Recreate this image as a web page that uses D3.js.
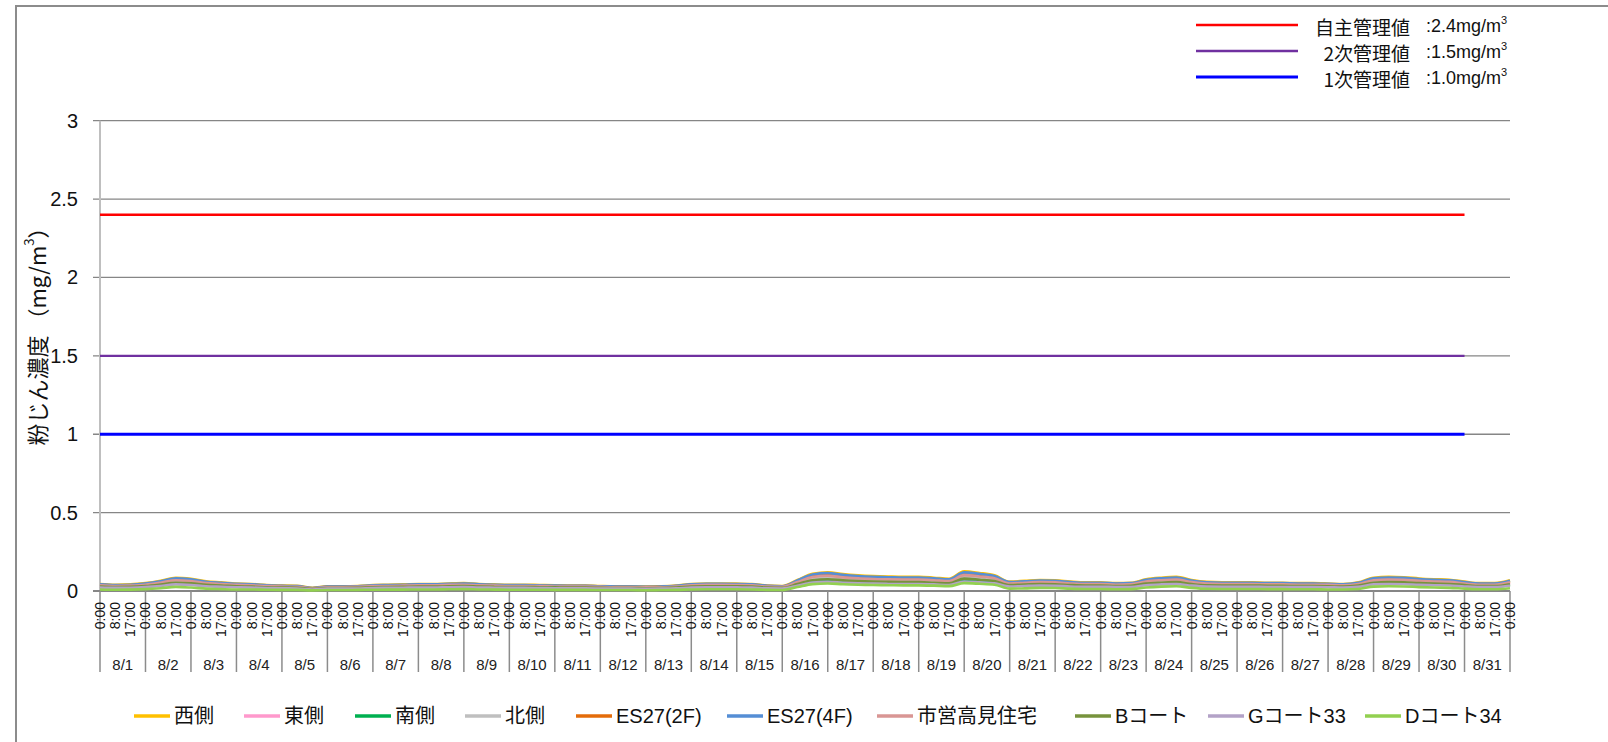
<!DOCTYPE html>
<html>
<head>
<meta charset="utf-8">
<script src="https://cdn.jsdelivr.net/npm/d3@7"></script>
<style>
body { margin: 0; background: #fff; }
svg { display: block; font-family: "Liberation Sans", Arial, "Noto Sans CJK JP", sans-serif; }
</style>
</head>
<body>
<svg id="chart" width="1608" height="742"></svg>
<script>
// categories: three readings a day + the closing 0:00
const dates = ['8/1','8/2','8/3','8/4','8/5','8/6','8/7','8/8','8/9','8/10','8/11','8/12','8/13','8/14','8/15','8/16',
    '8/17','8/18','8/19','8/20','8/21','8/22','8/23','8/24','8/25','8/26','8/27','8/28','8/29','8/30','8/31'];
const times = ['0:00', '8:00', '17:00'];
const lastTime = '0:00';

const yTicks = [0, 0.5, 1, 1.5, 2, 2.5, 3];

// control limits (mg/m3), drawn up to 8/31 0:00
const limitNames = ['自主管理値', '2次管理値', '1次管理値'];
const limitValues = [2.4, 1.5, 1.0];
const limitTexts = [':2.4mg/m', ':1.5mg/m', ':1.0mg/m'];
const limitColors = ['#ff0000', '#7030a0', '#0000ff'];
const limitEndIndex = 90;

// dust readings in µg/m3 (÷1000 -> mg/m3)
const west = [45,40,42,50,65,85,78,62,55,48, 45,38,35,33,20,30,30,32,38,40, 42,45,45,48,50,45,42,40,40,38,
    36,35,35,32,30,30,28,30,35,45, 48,48,47,45,35,32,70,110,120,108, 100,95,92,90,90,85,78,125,115,100,
    60,65,70,68,60,55,55,50,52,75, 85,90,70,58,55,55,55,52,52,50, 50,48,45,55,85,90,88,80,75,72, 60,50,50,68];
const es27_4f = [43,38,40,48,62,81,74,59,52,46, 43,36,33,31,19,29,28,30,36,38, 40,43,43,46,48,43,40,38,38,36,
    34,33,33,30,29,28,27,29,33,43, 46,46,45,43,33,30,67,105,114,103, 95,90,88,86,86,81,74,119,109,95,
    57,62,67,65,57,52,52,48,50,71, 81,86,67,55,52,52,52,50,50,48, 48,46,43,52,81,86,84,76,71,69, 57,48,48,65];
const es27_2f = [40,35,37,44,57,75,69,55,48,42, 40,33,31,29,18,26,26,28,33,35, 37,40,40,42,44,40,37,35,35,33,
    32,31,31,28,26,26,25,26,31,40, 42,42,41,40,31,28,62,97,106,95, 88,84,81,79,79,75,69,110,101,88,
    53,57,62,60,53,48,48,44,46,66, 75,79,62,51,48,48,48,46,46,44, 44,42,40,48,75,79,77,70,66,63, 53,44,44,60];
const shiei = [36,32,34,40,53,69,63,50,44,39, 36,31,28,27,16,24,24,26,31,32, 34,36,36,39,40,36,34,32,32,31,
    29,28,28,26,24,24,23,24,28,36, 39,39,38,36,28,26,57,89,97,87, 81,77,74,73,73,69,63,101,93,81,
    48,53,57,55,48,44,44,40,42,61, 69,73,57,47,44,44,44,42,42,40, 40,39,36,44,69,73,71,65,61,58, 48,40,40,55];
const east = [34,30,31,37,49,64,58,46,41,36, 34,28,26,25,15,22,22,24,28,30, 31,34,34,36,37,34,31,30,30,28,
    27,26,26,24,22,22,21,22,26,34, 36,36,35,34,26,24,52,82,90,81, 75,71,69,67,67,64,58,94,86,75,
    45,49,52,51,45,41,41,37,39,56, 64,67,52,43,41,41,41,39,39,37, 37,36,34,41,64,67,66,60,56,54, 45,37,37,51];
const north = [32,28,29,35,46,60,55,43,39,34, 32,27,25,23,14,21,21,22,27,28, 29,32,32,34,35,32,29,28,28,27,
    25,25,25,22,21,21,20,21,25,32, 34,34,33,32,25,22,49,77,84,76, 70,67,64,63,63,60,55,88,81,70,
    42,46,49,48,42,39,39,35,36,53, 60,63,49,41,39,39,39,36,36,35, 35,34,32,39,60,63,62,56,53,50, 42,35,35,48];
const bCourt = [28,25,26,31,41,53,49,39,35,30, 28,24,22,21,13,19,19,20,24,25, 26,28,28,30,31,28,26,25,25,24,
    23,22,22,20,19,19,18,19,22,28, 30,30,30,28,22,20,44,69,75,68, 63,60,58,57,57,53,49,79,72,63,
    38,41,44,43,38,35,35,31,33,47, 53,57,44,36,35,35,35,33,33,31, 31,30,28,35,53,57,55,50,47,45, 38,31,31,43];
const south = [26,23,24,28,37,48,44,35,31,27, 26,22,20,19,11,17,17,18,22,23, 24,26,26,27,28,26,24,23,23,22,
    20,20,20,18,17,17,16,17,20,26, 27,27,27,26,20,18,40,62,68,61, 57,54,52,51,51,48,44,71,65,57,
    34,37,40,39,34,31,31,28,30,43, 48,51,40,33,31,31,31,30,30,28, 28,27,26,31,48,51,50,45,43,41, 34,28,28,39];
const gCourt33 = [22,20,21,25,32,42,38,30,27,24, 22,19,17,16,10,15,15,16,19,20, 21,22,22,24,25,22,21,20,20,19,
    18,17,17,16,15,15,14,15,17,22, 24,24,23,22,17,16,34,54,59,53, 49,47,45,44,44,42,38,61,56,49,
    29,32,34,33,29,27,27,25,25,37, 42,44,34,28,27,27,27,25,25,25, 25,24,22,27,42,44,43,39,37,35, 29,25,25,33];
const dCourt34 = [10,8,9,12,18,26,22,15,12,10, 10,8,7,7,4,6,6,7,8,9, 9,10,10,11,12,10,9,8,8,8,
    7,7,7,6,6,6,5,6,7,10, 11,11,11,10,7,6,25,44,48,43, 40,38,37,36,36,34,31,50,46,40,
    15,17,20,19,15,13,13,11,12,22, 28,30,20,14,13,13,13,12,12,11, 11,10,10,13,28,30,29,25,22,20, 15,11,11,18];

const seriesNames = ['西側', '東側', '南側', '北側', 'ES27(2F)', 'ES27(4F)', '市営高見住宅', 'Bコート', 'Gコート33', 'Dコート34'];
const seriesValues = [west, east, south, north, es27_2f, es27_4f, shiei, bCourt, gCourt33, dCourt34];
const seriesColors = ['#ffc000', '#ff99cc', '#00b050', '#bfbfbf', '#e46c0a', '#558ed5', '#d99694', '#77933c', '#b3a2c7', '#92d050'];

const categories = [];
dates.forEach(function(d) {
    times.forEach(function(t) { categories.push({date: d, time: t}); });
});
categories.push({date: '', time: lastTime});

const svg = d3.select('#chart');

const x = d3.scalePoint()
    .domain(d3.range(categories.length))
    .range([100, 1510]);
const y = d3.scaleLinear()
    .domain([0, 3])
    .range([591, 120.7]);

// chart border
svg.append('path')
    .attr('d', 'M16,742V6H1608')
    .attr('fill', 'none')
    .attr('stroke', '#8c8c8c')
    .attr('stroke-width', 2);

// grid
svg.append('g')
    .selectAll('line')
    .data(yTicks.filter(function(v) { return v > 0; }))
    .join('line')
    .attr('x1', 93).attr('x2', 1510)
    .attr('y1', function(d) { return y(d); })
    .attr('y2', function(d) { return y(d); })
    .attr('stroke', '#868686')
    .attr('stroke-width', 1.3);

svg.append('line')
    .attr('x1', 100).attr('x2', 100)
    .attr('y1', y(3)).attr('y2', y(0))
    .attr('stroke', '#bfbfbf')
    .attr('stroke-width', 2);

const yAxis = svg.append('g')
    .attr('transform', 'translate(100,0)')
    .call(d3.axisLeft(y).tickValues(yTicks).tickSize(0).tickPadding(22).tickFormat(d3.format('')));
yAxis.select('.domain').remove();
yAxis.selectAll('text')
    .attr('font-size', 20)
    .attr('fill', '#111')
    .style('font-family', '"Liberation Sans", Arial, sans-serif');

// y title
const yTitle = svg.append('text')
    .attr('transform', 'translate(36,331) rotate(-90)')
    .attr('text-anchor', 'middle')
    .attr('dominant-baseline', 'central')
    .attr('font-size', 22)
    .attr('fill', '#111')
    .style('font-family', '"Noto Sans CJK JP", sans-serif');
yTitle.append('tspan').text('粉じん濃度 （mg/m');
yTitle.append('tspan').attr('font-size', 13).attr('dy', -8).text('3');
yTitle.append('tspan').attr('dy', 8).text('）');

// x axis
const xAxis = svg.append('g');
xAxis.append('line')
    .attr('x1', 93).attr('x2', 1510)
    .attr('y1', y(0)).attr('y2', y(0))
    .attr('stroke', '#868686')
    .attr('stroke-width', 2);

const dayStarts = d3.range(dates.length + 1).map(function(d) { return d * times.length; });
xAxis.selectAll('line.day')
    .data(dayStarts)
    .join('line')
    .attr('class', 'day')
    .attr('x1', function(d) { return x(d); })
    .attr('x2', function(d) { return x(d); })
    .attr('y1', y(0)).attr('y2', 672)
    .attr('stroke', '#8c8c8c')
    .attr('stroke-width', 1.5);

xAxis.selectAll('text.time')
    .data(categories)
    .join('text')
    .attr('class', 'time')
    .attr('transform', function(d, i) { return 'translate(' + x(i) + ',602) rotate(-90)'; })
    .attr('text-anchor', 'end')
    .attr('dominant-baseline', 'central')
    .attr('font-size', 14)
    .attr('fill', '#111')
    .text(function(d) { return d.time; });

const step = x.step();
xAxis.selectAll('text.date')
    .data(dates)
    .join('text')
    .attr('class', 'date')
    .attr('x', function(d, i) { return x(i * times.length) + step * times.length / 2; })
    .attr('y', 664)
    .attr('text-anchor', 'middle')
    .attr('dominant-baseline', 'central')
    .attr('font-size', 15)
    .attr('fill', '#222')
    .text(function(d) { return d; });

// limit lines
svg.append('g')
    .selectAll('line')
    .data(limitValues)
    .join('line')
    .attr('x1', x(0)).attr('x2', x(limitEndIndex))
    .attr('y1', function(d) { return y(d); })
    .attr('y2', function(d) { return y(d); })
    .attr('stroke', function(d, i) { return limitColors[i]; })
    .attr('stroke-width', function(d, i) { return i === 2 ? 3.2 : 2.4; });

// series lines
const line = d3.line()
    .x(function(d, i) { return x(i); })
    .y(function(d) { return y(d / 1000); })
    .curve(d3.curveMonotoneX);

svg.append('g')
    .selectAll('path')
    .data(seriesValues)
    .join('path')
    .attr('d', line)
    .attr('fill', 'none')
    .attr('stroke', function(d, i) { return seriesColors[i]; })
    .attr('stroke-width', 2.6)
    .attr('stroke-linejoin', 'round');

// top legend
const topLegendY = [25, 51, 77];
const topLegend = svg.append('g');
limitNames.forEach(function(name, i) {
    topLegend.append('line')
        .attr('x1', 1196).attr('x2', 1298)
        .attr('y1', topLegendY[i]).attr('y2', topLegendY[i])
        .attr('stroke', limitColors[i])
        .attr('stroke-width', i === 2 ? 3.2 : 2.4);
    topLegend.append('text')
        .attr('x', 1410).attr('y', topLegendY[i] + 1)
        .attr('text-anchor', 'end')
        .attr('dominant-baseline', 'central')
        .attr('font-size', 19)
        .attr('fill', '#111')
        .style('font-family', '"Noto Sans CJK JP", sans-serif')
        .text(name);
    const t = topLegend.append('text')
        .attr('x', 1426).attr('y', topLegendY[i] + 1)
        .attr('dominant-baseline', 'central')
        .attr('font-size', 18)
        .attr('fill', '#111');
    t.append('tspan').text(limitTexts[i]);
    t.append('tspan').attr('font-size', 11).attr('dy', -6).text('3');
});

// bottom legend
const legendX = [134, 244, 355, 465, 576, 727, 877, 1075, 1208, 1365];
const legend = svg.append('g')
    .selectAll('g')
    .data(seriesNames)
    .join('g')
    .attr('transform', function(d, i) { return 'translate(' + legendX[i] + ',716)'; });
legend.append('line')
    .attr('x1', 0).attr('x2', 36)
    .attr('stroke', function(d, i) { return seriesColors[i]; })
    .attr('stroke-width', 3.5);
legend.append('text')
    .attr('x', 40)
    .attr('dominant-baseline', 'central')
    .attr('font-size', 20)
    .attr('fill', '#111')
    .text(function(d) { return d; });
</script>
</body>
</html>
